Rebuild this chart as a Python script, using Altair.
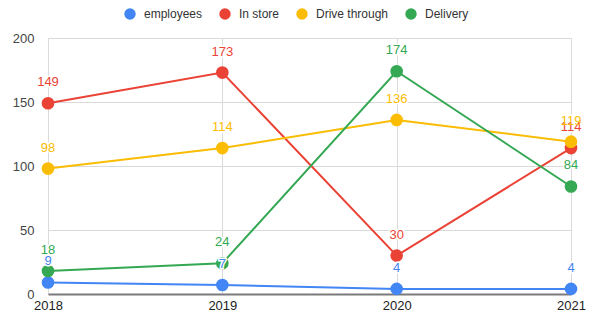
import altair as alt
import pandas as pd

years = ["2018", "2019", "2020", "2021"]
series_names = ["employees", "In store", "Drive through", "Delivery"]
employees = [9, 7, 4, 4]
in_store = [149, 173, 30, 114]
drive_through = [98, 114, 136, 119]
delivery = [18, 24, 174, 84]
colors = ["#4285F4", "#EA4335", "#FBBC04", "#34A853"]

rows = []
for name, vals in zip(series_names, [employees, in_store, drive_through, delivery]):
    for i, (y, v) in enumerate(zip(years, vals)):
        rows.append({"year": y, "series": name, "value": v,
                     "order": series_names.index(name)})
df = pd.DataFrame(rows)

FONT = "Liberation Sans"

x = alt.X("year:O", scale=alt.Scale(type="point", padding=0, domain=years),
          axis=alt.Axis(title=None, labelAngle=0, labelFontSize=13, labelColor="#222",
                        labelFont=FONT, grid=True, gridColor="#dadada", ticks=False,
                        domain=True, domainColor="#7a7a7a", domainWidth=2, labelPadding=5))
y = alt.Y("value:Q", scale=alt.Scale(domain=[0, 200], nice=False),
          axis=alt.Axis(title=None, values=[0, 50, 100, 150, 200], labelFontSize=13,
                        labelColor="#444", labelFont=FONT, grid=True, gridColor="#dadada",
                        ticks=False, domain=False, labelPadding=14))
color = alt.Color("series:N", scale=alt.Scale(domain=series_names, range=colors),
                  legend=alt.Legend(title=None, orient="none", direction="horizontal",
                                    legendX=76, legendY=-30, symbolType="circle",
                                    symbolSize=130, symbolStrokeWidth=0,
                                    labelFontSize=12, labelFont=FONT,
                                    labelColor="#333", columnPadding=16,
                                    labelOffset=8))

base = alt.Chart(df)

lines = base.mark_line(strokeWidth=2).encode(x=x, y=y, color=color, detail="series:N")
points = base.mark_point(filled=True, size=160, opacity=1).encode(
    x=x, y=y, color=color, order="order:Q")
halo = base.mark_text(dy=-21, fontSize=13, font=FONT, baseline="middle",
                      stroke="white", strokeWidth=3, fill="white").encode(
    x=x, y=y, text="value:Q", order="order:Q")
labels = base.mark_text(dy=-21, fontSize=13, font=FONT, baseline="middle").encode(
    x=x, y=y, text="value:Q", color=color, order="order:Q")

chart = alt.layer(lines, points, halo, labels).properties(
    width=523, height=256,
    autosize=alt.AutoSizeParams(type="none"),
    padding={"left": 40, "top": 30, "right": 20, "bottom": 22},
).configure_view(stroke=None).configure(background="white")

chart.save("out.html", embed_options={"renderer": "svg", "actions": False})
